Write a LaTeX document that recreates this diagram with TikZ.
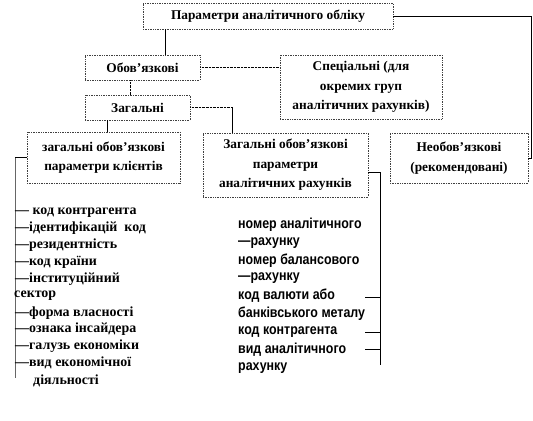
\documentclass[tikz,border=0pt]{standalone}
\usepackage{fontspec}
\setmainfont{Liberation Serif}
\newfontfamily\narrowsans[FakeStretch=0.86]{Liberation Sans}
\usepackage{tikz}
\usetikzlibrary{positioning, calc}

\begin{document}
\begin{tikzpicture}[x=1bp, y=-1bp,
    box/.style={draw=black!75, densely dotted, line width=0.7pt, fill=white,
      align=center, inner sep=1pt, font=\fontsize{13.4}{19.5}\selectfont\bfseries},
    itemtext/.style={anchor=west, inner sep=0pt, font=\fontsize{14}{16}\selectfont\bfseries},
    acctext/.style={anchor=west, inner sep=0pt, font=\narrowsans\fontsize{14.5}{16}\selectfont\bfseries}]
  \useasboundingbox (0,0) rectangle (533,420);

  % Boxes
  \node[box, minimum width=250bp, minimum height=26bp] (top) at (268,16) {Параметри аналітичного обліку};
  \node[box, minimum width=115bp, minimum height=25bp] (oblig) at (142.5,67.5) {Обов'язкові};
  \node[box, minimum width=162bp, minimum height=64bp] (spec) at (361,87) {Спеціальні (для\\ окремих груп\\ аналітичних рахунків)};
  \node[box, minimum width=105bp, minimum height=25bp] (gen) at (137.5,107.5) {Загальні};
  \node[box, minimum width=153bp, minimum height=51bp] (clients) at (103.5,157.5) {загальні обов'язкові\\ параметри клієнтів};
  \node[box, minimum width=165bp, minimum height=64bp] (accounts) at (285.5,165) {Загальні обов'язкові\\ параметри\\ аналітичних рахунків};
  \node[box, minimum width=138bp, minimum height=50bp] (nonoblig) at (459,158) {Необов'язкові\\ (рекомендовані)};

  % Connectors
  \coordinate (o1) at ($(oblig.north west)!0.7!(oblig.north east)$);
  \draw (o1) -- (o1 |- top.south);
  \draw[densely dotted] (oblig.east) -- (spec.west |- oblig.east);
  \coordinate (o2) at ($(oblig.south west)!0.39!(oblig.south east)$);
  \draw[densely dotted] (o2) -- (o2 |- gen.north);
  \coordinate (g1) at ($(gen.south west)!0.21!(gen.south east)$);
  \draw (g1) -- (g1 |- clients.north);
  \coordinate (a1) at ($(accounts.north west)!0.18!(accounts.north east)$);
  \draw[densely dotted] (gen.east) -- (gen.east -| a1) coordinate (g2);
  \draw (g2) -- (a1);
  \coordinate (r1) at (531,0);
  \draw (top.east) -- (top.east -| r1) |- (nonoblig.east);

  % Client parameters
  \coordinate (c1) at (15,158);
  \coordinate (c2) at (15,378);
  \draw (clients.west) -- (clients.west -| c1);
  \draw[black!60] (c1) -- (c2);
  \node[itemtext] (k1) at (15,213) {— код контрагента};
  \node[itemtext] (k2) at (15,228) {—ідентифікацій\ \ код};
  \node[itemtext] (k3) at (15,245) {—резидентність};
  \node[itemtext] (k4) at (15,262) {—код країни};
  \node[itemtext] (k5) at (15,279) {—інституційний};
  \node[itemtext] (k6) at (14,296) {сектор};
  \node[itemtext] (k7) at (15,313) {—форма власності};
  \node[itemtext] (k8) at (15,329) {—ознака інсайдера};
  \node[itemtext] (k9) at (15,346) {—галузь економіки};
  \node[itemtext] (k10) at (15,363) {—вид економічної};
  \node[itemtext] (k11) at (33,381) {діяльності};

  % Account parameters
  \coordinate (m1) at (380,365);
  \draw (accounts.east |- 0,172) -- (m1 |- 0,172) -- (m1);
  \node[acctext] (n1) at (238,225) {номер аналітичного};
  \node[acctext] (n2) at (238,243) {—рахунку};
  \node[acctext] (n3) at (238,261) {номер балансового};
  \node[acctext] (n4) at (238,278) {—рахунку};
  \node[acctext] (n5) at (238,296) {код валюти або};
  \node[acctext] (n6) at (238,314) {банківського металу};
  \node[acctext] (n7) at (238,332) {код контрагента};
  \node[acctext] (n8) at (238,350) {вид аналітичного};
  \node[acctext] (n9) at (238,368) {рахунку};
  \foreach \yy in {297,332,349}
    \draw (365,\yy) -- (m1 |- 0,\yy);
\end{tikzpicture}
\end{document}
